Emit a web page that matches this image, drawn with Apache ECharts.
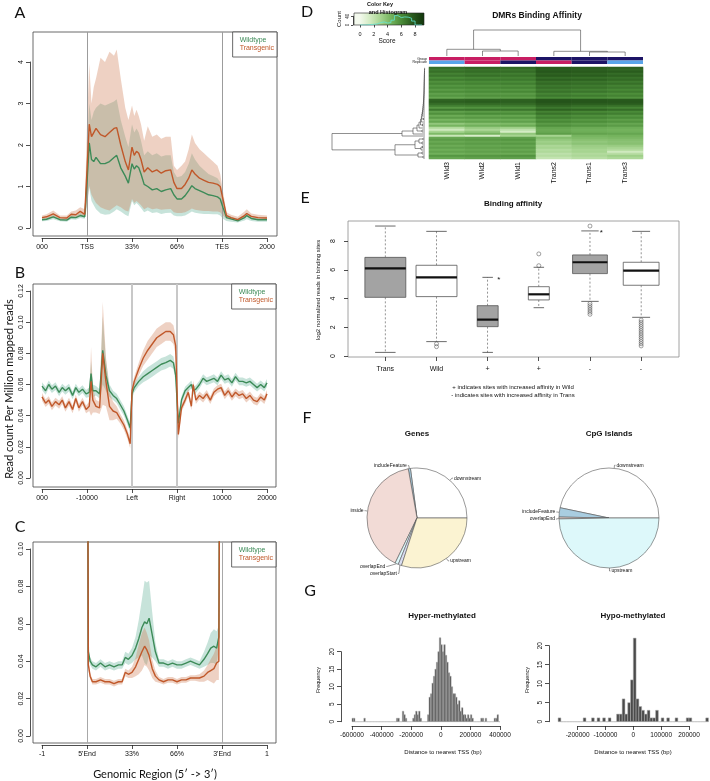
<!DOCTYPE html>
<html><head><meta charset="utf-8">
<script src="https://cdn.jsdelivr.net/npm/echarts@6/dist/echarts.min.js"></script>
<style>html,body{margin:0;padding:0;background:#fff}#c{width:710px;height:781px}</style>
</head><body><div id="c"></div><script>
// ================= DATA =================
// Panel A (gene body profile)
const aTicks = ['000','TSS','33%','66%','TES','2000'];
const aVlines = [1, 4];
const aX = [0,0.1,0.25,0.4,0.55,0.65,0.75,0.85,0.95,1.0,1.05,1.1,1.15,1.2,1.3,1.4,1.5,1.6,1.66,1.75,1.85,1.92,2.0,2.05,2.1,2.15,2.2,2.27,2.35,2.45,2.55,2.65,2.75,2.86,2.93,3.0,3.1,3.18,3.26,3.33,3.4,3.5,3.6,3.7,3.8,3.9,3.96,4.02,4.1,4.2,4.35,4.5,4.55,4.65,4.8,5.0];
const aTg   = [0.25,0.27,0.34,0.25,0.24,0.33,0.32,0.40,0.33,1.4,2.5,2.2,2.3,2.4,2.25,2.2,2.3,2.4,2.42,2.0,1.6,1.4,1.95,1.75,1.85,1.8,1.65,1.35,1.45,1.35,1.4,1.32,1.38,1.4,1.1,0.95,0.95,1.05,1.2,1.4,1.3,1.2,1.15,1.1,1.08,1.05,1.0,0.7,0.3,0.25,0.2,0.3,0.35,0.28,0.25,0.24];
const aTgHi = [0.3,0.33,0.42,0.3,0.3,0.4,0.42,0.5,0.45,2.5,3.95,3.0,3.4,3.6,4.1,4.0,4.25,4.15,4.3,3.6,2.9,2.6,2.95,2.7,2.85,2.7,2.5,2.1,2.45,2.2,2.25,2.15,2.2,2.2,1.5,1.4,1.5,1.6,1.9,2.25,2.05,1.9,1.8,1.7,1.6,1.5,1.3,0.9,0.38,0.32,0.27,0.4,0.45,0.35,0.32,0.3];
const aTgLo = [0.2,0.21,0.26,0.2,0.19,0.26,0.24,0.3,0.27,0.6,1.02,0.8,0.7,0.6,0.5,0.45,0.42,0.5,0.55,0.5,0.42,0.4,0.7,0.6,0.65,0.6,0.55,0.45,0.5,0.45,0.47,0.44,0.45,0.46,0.38,0.36,0.36,0.38,0.42,0.47,0.44,0.42,0.41,0.41,0.4,0.4,0.38,0.3,0.22,0.2,0.17,0.24,0.28,0.22,0.2,0.2];
const aWt   = [0.2,0.21,0.27,0.2,0.19,0.26,0.25,0.3,0.27,1.1,2.05,1.65,1.6,1.7,1.55,1.55,1.6,1.7,1.75,1.45,1.25,1.08,1.55,1.42,1.5,1.45,1.3,1.05,1.0,0.92,0.95,0.88,0.92,0.95,0.8,0.7,0.7,0.78,0.9,1.02,0.95,0.9,0.85,0.8,0.78,0.75,0.7,0.5,0.25,0.22,0.17,0.25,0.3,0.23,0.2,0.2];
const aWtHi = [0.24,0.25,0.32,0.24,0.23,0.31,0.3,0.36,0.33,1.9,3.0,2.6,2.8,2.9,3.0,2.95,3.0,3.05,3.1,2.6,2.2,1.95,2.5,2.3,2.4,2.3,2.1,1.75,1.85,1.75,1.8,1.72,1.75,1.75,1.35,1.22,1.25,1.35,1.55,1.8,1.65,1.5,1.4,1.3,1.25,1.2,1.1,0.75,0.32,0.27,0.22,0.32,0.37,0.29,0.26,0.25];
const aWtLo = [0.16,0.17,0.21,0.16,0.15,0.21,0.2,0.24,0.22,0.5,0.97,0.65,0.55,0.45,0.35,0.32,0.33,0.4,0.45,0.4,0.32,0.28,0.65,0.55,0.6,0.55,0.48,0.38,0.42,0.36,0.38,0.34,0.36,0.37,0.3,0.28,0.28,0.3,0.35,0.4,0.37,0.35,0.34,0.34,0.33,0.33,0.3,0.22,0.17,0.15,0.13,0.18,0.21,0.17,0.15,0.15];

// Panel B (DMR flanks)
const bTicks = ['000','-10000','Left','Right','10000','20000'];
const bVlines = [2, 3];
const bX = [0,0.08,0.15,0.22,0.3,0.38,0.45,0.52,0.6,0.68,0.75,0.82,0.9,0.98,1.05,1.09,1.13,1.2,1.28,1.35,1.42,1.5,1.58,1.66,1.74,1.82,1.9,1.96,2.0,2.05,2.15,2.25,2.35,2.45,2.55,2.65,2.75,2.85,2.92,2.97,3.03,3.1,3.18,3.25,3.32,3.36,3.42,3.5,3.58,3.66,3.74,3.82,3.9,3.98,4.06,4.14,4.22,4.3,4.38,4.46,4.54,4.62,4.7,4.78,4.86,4.94,5.0];
const bWt = [0.059,0.056,0.060,0.057,0.059,0.055,0.058,0.056,0.058,0.053,0.058,0.055,0.057,0.054,0.055,0.067,0.056,0.056,0.054,0.082,0.066,0.056,0.053,0.051,0.047,0.043,0.037,0.032,0.054,0.058,0.062,0.065,0.067,0.069,0.071,0.073,0.074,0.0755,0.074,0.066,0.035,0.050,0.056,0.058,0.060,0.056,0.057,0.060,0.064,0.062,0.063,0.064,0.062,0.066,0.063,0.064,0.061,0.065,0.062,0.062,0.061,0.062,0.060,0.058,0.060,0.058,0.061];
const bTg = [0.052,0.048,0.050,0.046,0.049,0.047,0.050,0.045,0.049,0.044,0.051,0.045,0.049,0.044,0.046,0.062,0.050,0.046,0.045,0.080,0.062,0.046,0.043,0.042,0.038,0.034,0.028,0.022,0.056,0.062,0.070,0.077,0.082,0.086,0.090,0.092,0.094,0.094,0.092,0.085,0.028,0.045,0.050,0.055,0.046,0.060,0.050,0.053,0.051,0.054,0.050,0.055,0.057,0.058,0.053,0.056,0.052,0.055,0.053,0.054,0.051,0.053,0.050,0.049,0.052,0.050,0.054];
const bWtSd = [0.0025,0.0025,0.0025,0.0025,0.0025,0.0025,0.0025,0.0025,0.0025,0.0025,0.0025,0.0025,0.0025,0.0025,0.003,0.008,0.004,0.003,0.003,0.022,0.01,0.004,0.003,0.003,0.003,0.003,0.003,0.003,0.003,0.003,0.003,0.0035,0.004,0.004,0.004,0.004,0.004,0.004,0.004,0.004,0.003,0.0025,0.0025,0.0025,0.0025,0.0025,0.0025,0.0025,0.0025,0.0025,0.0025,0.0025,0.0025,0.0025,0.0025,0.0025,0.0025,0.0025,0.0025,0.0025,0.0025,0.0025,0.0025,0.0025,0.0025,0.0025,0.0025];
const bTgSd = [0.0025,0.0025,0.0025,0.0025,0.0025,0.0025,0.0025,0.0025,0.0025,0.0025,0.0025,0.0025,0.0025,0.0025,0.003,0.022,0.008,0.004,0.004,0.033,0.016,0.009,0.006,0.004,0.003,0.003,0.003,0.003,0.003,0.003,0.004,0.005,0.006,0.006,0.006,0.006,0.006,0.006,0.006,0.006,0.003,0.0025,0.0025,0.0025,0.0025,0.0025,0.0025,0.0025,0.0025,0.0025,0.0025,0.0025,0.0025,0.0025,0.0025,0.0025,0.0025,0.0025,0.0025,0.0025,0.0025,0.0025,0.0025,0.0025,0.0025,0.0025,0.0025];

// Panel C (DMR body)
const cTicks = ['-1',"5'End",'33%','66%',"3'End",'1'];
const cVlines = [1, 4];
const cX = [1.0,1.03,1.07,1.12,1.2,1.3,1.4,1.5,1.6,1.7,1.78,1.85,1.92,2.0,2.08,2.15,2.22,2.28,2.33,2.38,2.45,2.52,2.6,2.7,2.8,2.9,3.0,3.1,3.2,3.3,3.4,3.5,3.6,3.68,3.75,3.82,3.88,3.93,3.97];
const cWt = [0.3,0.045,0.040,0.038,0.037,0.039,0.037,0.038,0.037,0.038,0.038,0.042,0.041,0.043,0.047,0.052,0.058,0.061,0.060,0.063,0.054,0.045,0.039,0.039,0.038,0.039,0.038,0.038,0.039,0.040,0.039,0.038,0.041,0.044,0.047,0.048,0.047,0.053,0.3];
const cTg = [0.3,0.038,0.032,0.029,0.029,0.030,0.029,0.029,0.028,0.029,0.029,0.034,0.033,0.034,0.037,0.041,0.045,0.048,0.046,0.043,0.036,0.032,0.030,0.029,0.030,0.030,0.029,0.030,0.030,0.031,0.031,0.031,0.032,0.034,0.035,0.036,0.039,0.040,0.3];
const cWtSd = [0.05,0.004,0.002,0.002,0.002,0.002,0.002,0.002,0.002,0.002,0.002,0.003,0.003,0.004,0.006,0.01,0.015,0.022,0.022,0.02,0.012,0.005,0.002,0.002,0.002,0.002,0.002,0.002,0.002,0.002,0.002,0.002,0.004,0.006,0.008,0.009,0.009,0.006,0.05];
const cTgSd = [0.05,0.003,0.0015,0.0015,0.0015,0.0015,0.0015,0.0015,0.0015,0.0015,0.0015,0.002,0.002,0.003,0.005,0.008,0.01,0.01,0.009,0.008,0.005,0.003,0.0015,0.0015,0.0015,0.0015,0.0015,0.0015,0.0015,0.0015,0.0015,0.002,0.003,0.004,0.006,0.008,0.009,0.01,0.05];

// Panel D (heatmap)
const hmCols = ['Wild3','Wild2','Wild1','Trans2','Trans1','Trans3'];
const hmGroup = ['Wild','Wild','Wild','Trans','Trans','Trans'];
const hmRep = [3,2,1,2,1,3];
const hmMatrix = [
[7.0,7.2,7.1,7.6,7.5,7.4],[6.6,6.8,6.7,7.5,7.4,7.2],[6.9,7.0,7.0,7.7,7.6,7.5],[6.3,6.5,6.4,7.3,7.2,7.0],
[6.7,6.9,6.8,7.6,7.5,7.3],[6.0,6.2,6.3,7.0,6.9,6.8],[6.5,6.6,6.6,7.4,7.3,7.1],[5.8,6.0,6.0,6.8,6.7,6.5],
[6.2,6.3,6.4,7.1,7.0,6.9],[5.6,5.7,5.8,6.6,6.5,6.3],[6.0,6.1,6.2,6.9,6.8,6.6],[5.4,5.6,5.6,6.4,6.3,6.1],
[5.9,6.0,6.1,6.8,6.7,6.5],[5.2,5.4,5.4,6.2,6.0,5.9],[5.6,5.8,5.8,6.6,6.5,6.3],[5.0,5.2,5.3,6.0,5.9,5.7],
[7.2,7.3,7.3,7.8,7.7,7.6],[7.4,7.5,7.4,7.9,7.8,7.7],[7.0,7.1,7.1,7.6,7.5,7.5],[6.4,6.5,6.6,7.2,7.0,6.9],
[5.5,5.7,5.8,6.6,6.4,6.2],[6.6,6.7,6.7,7.3,7.2,7.0],[5.2,5.4,5.5,6.3,6.1,6.0],[5.8,6.0,6.0,6.8,6.6,6.4],
[4.8,5.0,5.0,6.0,5.8,5.6],[5.4,5.5,5.6,6.4,6.2,6.0],[4.4,4.6,4.7,5.7,5.5,5.3],[5.0,5.1,5.2,6.1,5.9,5.7],
[3.6,4.0,4.2,5.4,5.2,5.0],[4.4,4.6,4.8,5.8,5.6,5.4],[2.6,3.4,3.2,5.0,4.8,4.7],[1.6,2.8,2.2,4.8,4.6,4.5],
[3.0,3.6,1.4,4.9,4.7,4.6],[4.2,4.4,3.6,5.3,5.1,5.0],[1.8,1.2,3.0,3.0,4.4,4.5],[5.0,5.2,5.2,4.0,4.2,4.3],
[5.4,5.5,5.6,3.6,3.9,4.0],[4.9,5.1,5.1,3.2,3.6,3.8],[5.3,5.4,5.5,3.4,3.8,3.9],[4.8,5.0,5.0,2.8,3.3,3.4],
[5.2,5.3,5.4,3.0,3.2,3.0],[4.7,4.9,4.9,2.5,2.9,2.6],[5.1,5.2,5.3,2.7,3.0,1.6],[4.6,4.8,4.8,2.2,2.6,2.4],
[5.6,5.6,5.7,2.5,2.8,3.2],[5.0,5.2,5.2,2.0,2.4,2.8]];
// dendrograms: [childA, childB, height]; negative = leaf (1-based), positive = earlier merge (1-based)
const colMerges = [[-2,-3,5],[-5,-6,4],[-1,1,6.7],[-4,2,4.7],[3,4,26]];
const rowMerges = [[-1,-2,0.4],[1,-3,0.5],[2,-4,0.5],[3,-5,0.6],[4,-6,0.6],[5,-7,0.7],[6,-8,0.7],[7,-9,0.8],[8,-10,0.8],[9,-11,0.9],
[10,-12,0.9],[11,-13,1.0],[12,-14,1.0],[13,-15,1.1],[14,-16,1.2],[15,-17,1.3],[16,-18,1.4],[17,-19,1.5],[18,-20,1.6],[19,-21,1.8],
[20,-22,2.0],[21,-23,2.2],[22,-24,2.5],[23,-25,2.8],[-26,-27,1.5],[24,25,3.2],[26,-28,3.6],[-29,-30,2.5],[27,28,4.5],[29,-31,6],
[-32,-33,3],[30,31,8],[32,-34,12],[33,-35,23],[-36,-37,2],[-38,-39,3],[35,36,6],[-40,-41,2.5],[38,-42,4],[37,39,10],
[-43,-44,3],[-45,-46,2],[41,42,7],[40,43,30],[34,44,93]];

// Panel E (boxplot)
const eLabels = ['Trans','Wild','+','+','-','-'];
const eStats = [[0.25,4.08,6.1,6.86,9.04],[1.0,4.13,5.47,6.31,8.67],[0.25,2.04,2.53,3.5,5.47],[3.36,3.9,4.29,4.82,6.17],[3.8,5.73,6.52,7.03,8.7],[2.69,4.92,5.94,6.52,8.67]];
const eOutliers = [[2,0.85],[2,0.65],[4,7.1],[4,6.28],[5,9.04],[5,3.65],[5,3.5],[5,3.35],[5,3.2],[5,3.05],[5,2.9],
[6,2.5],[6,2.35],[6,2.2],[6,2.05],[6,1.9],[6,1.75],[6,1.6],[6,1.45],[6,1.3],[6,1.15],[6,1.0],[6,0.85],[6,0.7]];
const eSignif = ['','','*','','*',''];

// Panel F (pies)
const geneNames = ['downstream','includeFeature','inside','overlapEnd','overlapStart','upstream'];
const geneVals  = [27.1, 0.7, 40.0, 1.1, 1.1, 30.0];
const cpgNames  = ['downstream','includeFeature','overlapEnd','upstream'];
const cpgVals   = [46.7, 3.0, 0.6, 49.7];

// Panel G (histograms)
const hyperStart = -600000, hyperBin = 10000;
const hyperCounts = [1,1,0,0,0,0,0,0,1,0, 0,0,0,0,0,0,0,0,0,0, 0,0,0,0,0,0,0,0,0,0, 1,1,0,0,3,2,1,0,0,0,
 0,1,2,3,2,3,1,0,0,0, 0,2,7,8,11,13,15,17,20,24, 22,20,22,19,17,14,13,10,8,8, 7,5,6,3,4,2,2,1,2,1,
 2,1,0,0,0,0,0,1,1,0, 1,0,0,0,0,0,1,1,2,0];
const hypoStart = -270000, hypoBin = 10000;
const hypoCounts = [1,0,0,0,0,0,0,0,0,1, 0,0,1,0,1,0,1,0,1,0, 0,2,2,6,2,5,11,22,6,4, 3,2,3,1,1,3,0,1,0,1, 0,0,1,0,0,0,1,1,0,0, 0,0,0,1];

// ================= STYLE / BUILD =================
const FONT = 'Liberation Sans, Arial, Helvetica, sans-serif';
const SANS = 'Lato, Open Sans, sans-serif';
const GREEN = '#3d8b58', ORANGE = '#c0582a';
const WT_BAND = 'rgba(100,178,152,0.36)', TG_BAND = 'rgba(205,120,80,0.34)';
const HM_COLORS = ['#f4faee','#d2ebc2','#a6d490','#74b35d','#4a8b38','#2a5c1e','#153a0e'];
const PIE_COLS = ['#ffffff','#a9cde0','#f2dbd6','#ddf8fa','#d9ddf1','#fbf3d2'];
const GROUP_COL = {Wild:'#c81e63', Trans:'#1d1466'};
const REP_COL = {1:'#1d1466', 2:'#c81e63', 3:'#5aa5ea'};

const grids=[], xAxes=[], yAxes=[], series=[], graphics=[], legends=[];
function addGrid(rect, xa, ya){
  const gi = grids.length;
  grids.push(Object.assign({show:false, containLabel:false}, rect));
  xAxes.push(Object.assign({gridIndex:gi}, xa));
  yAxes.push(Object.assign({gridIndex:gi}, ya));
  return gi;
}
const hid = (min,max,extra)=>Object.assign({type:'value', min, max, show:false, splitLine:{show:false}}, extra||{});
function mainGrid(l,t,r,b,xmin,xmax,ymin,ymax,border){
  return addGrid({left:l, top:t, width:r-l, height:b-t, show:true, borderColor:border||'#444', borderWidth:0.8, backgroundColor:'rgba(0,0,0,0)'}, hid(xmin,xmax), hid(ymin,ymax));
}
const axLine = {show:true, onZero:false, lineStyle:{color:'#222', width:0.8}};
function rAxisX(x0,x1,y,min,max,interval,fmt,o){
  o=o||{};
  return addGrid({left:x0, width:x1-x0, top:y-10, height:10},
    {type:'value', min, max, interval, position:'bottom',
     axisLine: o.noLine?{show:false}:axLine,
     axisTick:{show:true, length:o.tick||4, lineStyle:{color:'#222', width:0.8}},
     axisLabel:{show:true, fontSize:o.fs||7, fontFamily:FONT, color:'#111', margin:o.margin||6, formatter:fmt, showMinLabel:true, showMaxLabel:true},
     splitLine:{show:false}},
    {type:'value', show:false, min:0, max:1});
}
function rAxisY(x,y0,y1,min,max,interval,fmt,o){
  o=o||{};
  return addGrid({left:x, width:10, top:y1, height:y0-y1},
    {type:'value', show:false, min:0, max:1},
    {type:'value', min, max, interval, position:'left',
     axisLine: o.noLine?{show:false}:axLine,
     axisTick:{show:true, length:o.tick||4, lineStyle:{color:'#222', width:0.8}},
     axisLabel:{show:true, fontSize:o.fs||7, fontFamily:FONT, color:'#111', rotate:90, margin:o.margin||5, formatter:fmt, showMinLabel:true, showMaxLabel:true},
     splitLine:{show:false}});
}
function band(gi, xs, lo, hi, color, z){
  series.push({type:'custom', xAxisIndex:gi, yAxisIndex:gi, clip:true, silent:true, z:z, data:[[xs[0], lo[0]]],
    renderItem:(p, api)=>{
      const pts=[];
      for(let i=0;i<xs.length;i++) pts.push(api.coord([xs[i], hi[i]]));
      for(let i=xs.length-1;i>=0;i--) pts.push(api.coord([xs[i], lo[i]]));
      return {type:'polygon', shape:{points:pts}, style:{fill:color}};
    }});
}
function line(gi, xs, ys, name, color, vlines, vstyle){
  const s = {type:'line', name, xAxisIndex:gi, yAxisIndex:gi, data: xs.map((x,i)=>[x, ys[i]]),
    showSymbol:false, symbol:'none', lineStyle:{color, width:1.4}, itemStyle:{color}, clip:true, silent:true, z:5};
  if (vlines) s.markLine = {silent:true, symbol:['none','none'], label:{show:false}, lineStyle:vstyle, data: vlines.map(v=>({xAxis:v}))};
  series.push(s);
}
function legendAt(right, top){
  legends.push({right, top, orient:'vertical', icon:'none', itemWidth:0, itemHeight:7, itemGap:1, selectedMode:false,
    padding:[5,3,5,2], borderColor:'#444', borderWidth:0.8, backgroundColor:'#fff',
    textStyle:{fontSize:7, fontFamily:FONT},
    data:[{name:'Wildtype', textStyle:{color:GREEN}}, {name:'Transgenic', textStyle:{color:ORANGE}}]});
}
function T(text,x,y,o){
  o=o||{};
  graphics.push({type:'text', x, y, rotation:o.rot||0, silent:true, z:50,
    style:{text, fontSize:o.fs||7, fontFamily:o.ff||FONT, fontWeight:o.fw||'normal', fill:o.color||'#111', align:o.align||'center', verticalAlign:'middle'}});
}
const lo = (m,s)=>m.map((v,i)=>v-s[i]);
const hi = (m,s)=>m.map((v,i)=>v+s[i]);

// ---- Panel A ----
const gA = mainGrid(33,32,277,236,-0.2,5.222,-0.193,4.723);
band(gA, aX, aWtLo, aWtHi, WT_BAND, 2);
band(gA, aX, aTgLo, aTgHi, TG_BAND, 3);
line(gA, aX, aWt, 'Wildtype', GREEN, aVlines, {color:'#9c9c9c', width:1, type:'solid'});
line(gA, aX, aTg, 'Transgenic', ORANGE);
rAxisX(42,267,238,0,5,1,v=>aTicks[Math.round(v)],{margin:6});
rAxisY(30,228,62,0,4,1,v=>String(v),{margin:5});
legendAt(433,32);

// ---- Panel B ----
const gB = mainGrid(33,284,276,487,-0.2,5.2,-0.00578,0.1245);
band(gB, bX, lo(bWt,bWtSd), hi(bWt,bWtSd), WT_BAND, 2);
band(gB, bX, lo(bTg,bTgSd), hi(bTg,bTgSd), TG_BAND, 3);
line(gB, bX, bWt, 'Wildtype', GREEN, bVlines, {color:'#c8c8c8', width:2, type:'solid'});
line(gB, bX, bTg, 'Transgenic', ORANGE);
rAxisX(42,267,489,0,5,1,v=>bTicks[Math.round(v)],{margin:5.5});
rAxisY(30,478,291,0,0.12,0.02,v=>v.toFixed(2),{margin:5});
legendAt(434,284);

// ---- Panel C ----
const gC = mainGrid(33,542,276,743,-0.2,5.2,-0.00374,0.1037);
band(gC, cX, lo(cWt,cWtSd), hi(cWt,cWtSd), WT_BAND, 2);
band(gC, cX, lo(cTg,cTgSd), hi(cTg,cTgSd), TG_BAND, 3);
line(gC, cX, cWt, 'Wildtype', GREEN, cVlines, {color:'#a8a8a8', width:1, type:'solid'});
line(gC, cX, cTg, 'Transgenic', ORANGE);
rAxisX(42,267,745,0,5,1,v=>cTicks[Math.round(v)],{margin:6});
rAxisY(30,736,549,0,0.1,0.02,v=>v.toFixed(2),{margin:5});
legendAt(434,542);

// ---- Panel D: heatmap ----
const gH = addGrid({left:429, top:67, width:214, height:92},
  {type:'category', data:hmCols, axisLine:{show:false}, axisTick:{show:false},
   axisLabel:{rotate:90, fontSize:7, fontFamily:FONT, color:'#111', margin:3, interval:0}},
  {type:'category', data:hmMatrix.map((r,i)=>String(i)), inverse:true, show:false});
const hmData=[]; hmMatrix.forEach((row,r)=>row.forEach((v,c)=>hmData.push([c,r,v])));
const hmSeriesIndex = series.length;
series.push({type:'heatmap', xAxisIndex:gH, yAxisIndex:gH, data:hmData, silent:true, itemStyle:{borderWidth:0}});
// colour side bars
const gBar = addGrid({left:429, top:57, width:214, height:7},
  {type:'category', data:hmCols, show:false},
  {type:'category', data:['Group','Replicate'], inverse:true, axisLine:{show:false}, axisTick:{show:false},
   axisLabel:{fontSize:3.5, fontFamily:FONT, color:'#111', margin:2, interval:0}});
const barData=[]; hmCols.forEach((c,i)=>{barData.push([i,0]); barData.push([i,1]);});
series.push({type:'custom', xAxisIndex:gBar, yAxisIndex:gBar, silent:true, data:barData,
  renderItem:(p,api)=>{
    const ci=api.value(0), ri=api.value(1);
    const c=api.coord([ci,ri]), s=api.size([1,1]);
    const fill = ri===0 ? GROUP_COL[hmGroup[ci]] : REP_COL[hmRep[ci]];
    return {type:'rect', shape:{x:c[0]-s[0]/2, y:c[1]-s[1]/2, width:s[0], height:s[1]}, style:{fill}};
  }});
function dendroSegs(merges){
  const pos=[], ht=[], segs=[];
  const get = r => r<0 ? {p:-r-1, h:0} : {p:pos[r-1], h:ht[r-1]};
  merges.forEach((m,k)=>{
    const A=get(m[0]), B=get(m[1]), h=m[2];
    pos[k]=(A.p+B.p)/2; ht[k]=h;
    segs.push([[A.p,A.h],[A.p,h],[B.p,h],[B.p,B.h]]);
  });
  return segs;
}
function dendro(gi, merges, horizontal){
  const segs = dendroSegs(merges);
  series.push({type:'custom', xAxisIndex:gi, yAxisIndex:gi, silent:true, data:[[0,0]],
    renderItem:(p,api)=>({type:'group', children: segs.map(s=>({type:'polyline',
      shape:{points: s.map(pt=> horizontal ? api.coord([pt[1],pt[0]]) : api.coord([pt[0],pt[1]]))},
      style:{stroke:'#444', lineWidth:0.6, fill:null}}))})});
}
const gTop = addGrid({left:429, top:30, width:214, height:26}, hid(-0.5,5.5), hid(0,26));
dendro(gTop, colMerges, false);
const gLeft = addGrid({left:332, top:67, width:93, height:92}, hid(0,93,{inverse:true}), hid(-0.5,45.5,{inverse:true}));
dendro(gLeft, rowMerges, true);
// colour key
const keyStops=[{offset:0,color:HM_COLORS[0]}];
HM_COLORS.forEach((c,k)=>keyStops.push({offset:(k*9/(HM_COLORS.length-1)+0.87)/10.17, color:c}));
keyStops.push({offset:1,color:HM_COLORS[HM_COLORS.length-1]});
const gKey = addGrid({left:354, top:13, width:70, height:12, show:true, borderColor:'#222', borderWidth:0.6,
  backgroundColor:new echarts.graphic.LinearGradient(0,0,1,0,keyStops)}, hid(-0.87,9.3), hid(0,55));
const allVals = hmMatrix.flat();
const keyPts=[];
for (let b=0;b<9;b+=0.5){ const n=allVals.filter(v=>v>=b && v<b+0.5).length; keyPts.push([b,n],[b+0.5,n]); }
series.push({type:'line', xAxisIndex:gKey, yAxisIndex:gKey, data:keyPts, showSymbol:false, symbol:'none', silent:true,
  lineStyle:{color:'#62e6d6', width:0.8}, z:6});
rAxisX(360,415,25,0,8,2,v=>String(v),{noLine:true, fs:5.5, tick:2.5, margin:6});
rAxisY(353,25,16.3,0,40,40,v=>String(v),{noLine:false, fs:4.5, tick:2, margin:2.5});

// ---- Panel E: boxplot ----
const eBoxW = [0.8,0.8,0.41,0.41,0.68,0.7];
const eFill = ['#a3a3a3','#ffffff','#a3a3a3','#ffffff','#a3a3a3','#ffffff'];
const gE = mainGrid(348,221,679,357,0.27,6.74,-0.07,9.39,'#8a8a8a');
series.push({type:'custom', xAxisIndex:gE, yAxisIndex:gE, silent:true,
  data: eStats.map((s,i)=>[i+1].concat(s)), encode:{x:0, y:[1,2,3,4,5]},
  renderItem:(p,api)=>{
    const i=p.dataIndex, s=eStats[i], x=i+1, w=eBoxW[i]/2;
    const c=(a,b)=>api.coord([a,b]);
    const L=(p1,p2,st)=>({type:'line', shape:{x1:p1[0],y1:p1[1],x2:p2[0],y2:p2[1]}, style:st});
    const dash={stroke:'#666', lineWidth:0.7, lineDash:[2,2]}, solid={stroke:'#444', lineWidth:0.8};
    const q3=c(x-w,s[3]), q1=c(x+w,s[1]);
    const ch=[
      L(c(x,s[3]),c(x,s[4]),dash), L(c(x,s[1]),c(x,s[0]),dash),
      L(c(x-w/2,s[4]),c(x+w/2,s[4]),solid), L(c(x-w/2,s[0]),c(x+w/2,s[0]),solid),
      {type:'rect', shape:{x:q3[0], y:q3[1], width:q1[0]-q3[0], height:q1[1]-q3[1]}, style:{fill:eFill[i], stroke:'#555', lineWidth:0.8}},
      L(c(x-w,s[2]),c(x+w,s[2]),{stroke:'#111', lineWidth:2.2})
    ];
    if (eSignif[i]) { const t=c(x+0.22,s[4]); ch.push({type:'text', x:t[0], y:t[1]+2, style:{text:eSignif[i], fontSize:8, fontFamily:FONT, fill:'#111', align:'center', verticalAlign:'middle'}}); }
    return {type:'group', children:ch};
  }});
series.push({type:'scatter', xAxisIndex:gE, yAxisIndex:gE, silent:true, data:eOutliers, symbol:'circle', symbolSize:4,
  itemStyle:{color:'rgba(0,0,0,0)', borderColor:'#555', borderWidth:0.7}});
rAxisY(348,356,241,0,8,2,v=>String(v),{noLine:true, margin:11});
rAxisX(385.3,641,357,1,6,1,v=>eLabels[Math.round(v)-1],{noLine:true, margin:9});

// ---- Panel F: pies ----
function pie(cx, cy, names, vals){
  series.push({type:'pie', center:[cx,cy], radius:50, startAngle:0, clockwise:false, silent:true, avoidLabelOverlap:true,
    label:{show:true, position:'outside', fontSize:5, fontFamily:FONT, color:'#111', formatter:'{b}', distanceToLabelLine:1},
    labelLine:{show:true, length:3, length2:1, lineStyle:{color:'#333', width:0.5}},
    itemStyle:{borderColor:'#555', borderWidth:0.6},
    emphasis:{disabled:true},
    data: names.map((n,i)=>({name:n, value:vals[i], itemStyle:{color:PIE_COLS[i]}}))});
}
pie(417,518,geneNames,geneVals);
pie(609,518,cpgNames,cpgVals);

// ---- Panel G: histograms ----
function hist(gi, start, w, counts){
  series.push({type:'custom', xAxisIndex:gi, yAxisIndex:gi, silent:true, data: counts.map((c,i)=>[start+i*w, c]),
    renderItem:(p,api)=>{
      const x=api.value(0), n=api.value(1);
      const a=api.coord([x,n]), b=api.coord([x+w,0]);
      return {type:'rect', shape:{x:a[0], y:a[1], width:b[0]-a[0], height:b[1]-a[1]}, style:{fill:'#4a4a4a', stroke:'#b0b0b0', lineWidth:0.5}};
    }});
}
const gHyper = addGrid({left:352, top:634.2, width:148, height:87.5}, hid(-600000,400000), hid(0,25));
hist(gHyper, hyperStart, hyperBin, hyperCounts);
rAxisX(352,500,726,-600000,400000,200000,v=>String(v),{fs:6.5, margin:6});
rAxisY(341,721.7,651.7,0,20,5,v=>String(v),{fs:6.5, margin:5});
const gHypo = addGrid({left:558.1, top:634.3, width:150.4, height:87.4}, hid(-270000,270000), hid(0,23));
hist(gHypo, hypoStart, hypoBin, hypoCounts);
rAxisX(577.6,689,726,-200000,200000,100000,v=>String(v),{fs:6.5, margin:6});
rAxisY(549,721.7,645.7,0,20,5,v=>String(v),{fs:6.5, margin:5});

// ---- Texts ----
const PL = {fs:16, ff:SANS};
T('A',20,13,PL); T('B',20,273,PL); T('C',20,527,PL); T('D',307,12,PL); T('E',305,198,PL); T('F',307,418,PL); T('G',310,591,PL);
T('Read count Per Million mapped reads',9,389,{fs:11, ff:SANS, rot:Math.PI/2});
T('Genomic Region (5\u2032 -> 3\u2032)',155,774,{fs:11, ff:SANS});
T('DMRs Binding Affinity',537,16,{fs:8.5, fw:'bold'});
T('Color Key',380,4.5,{fs:5.5, fw:'bold'});
T('and Histogram',388,12,{fs:5.5, fw:'bold'});
T('Score',387,41,{fs:6.5});
T('Count',339,19,{fs:6, rot:Math.PI/2});
T('Binding affinity',513,204,{fs:8, fw:'bold'});
T('log2 normalized reads in binding sites',318,290,{fs:6, rot:Math.PI/2});
T('+ indicates sites with increased affinity in Wild',513,387,{fs:6});
T('- indicates sites with increased affinity in Trans',513,395,{fs:6});
T('Genes',417,434,{fs:8, fw:'bold'});
T('CpG Islands',609,434,{fs:8, fw:'bold'});
T('Hyper-methylated',442,616,{fs:8, fw:'bold'});
T('Hypo-methylated',633,616,{fs:8, fw:'bold'});
T('Frequency',318,680,{fs:5.5, rot:Math.PI/2});
T('Frequency',527,680,{fs:5.5, rot:Math.PI/2});
T('Distance to nearest TSS (bp)',443,752,{fs:6});
T('Distance to nearest TSS (bp)',633,752,{fs:6});

const chart = echarts.init(document.getElementById('c'), null, {renderer:'canvas'});
chart.setOption({
  animation:false, backgroundColor:'#ffffff',
  grid:grids, xAxis:xAxes, yAxis:yAxes, series, legend:legends,
  visualMap:[{type:'continuous', show:false, min:0, max:9, dimension:2, seriesIndex:hmSeriesIndex, inRange:{color:HM_COLORS}}],
  graphic:{elements:graphics}
});
</script></body></html>
